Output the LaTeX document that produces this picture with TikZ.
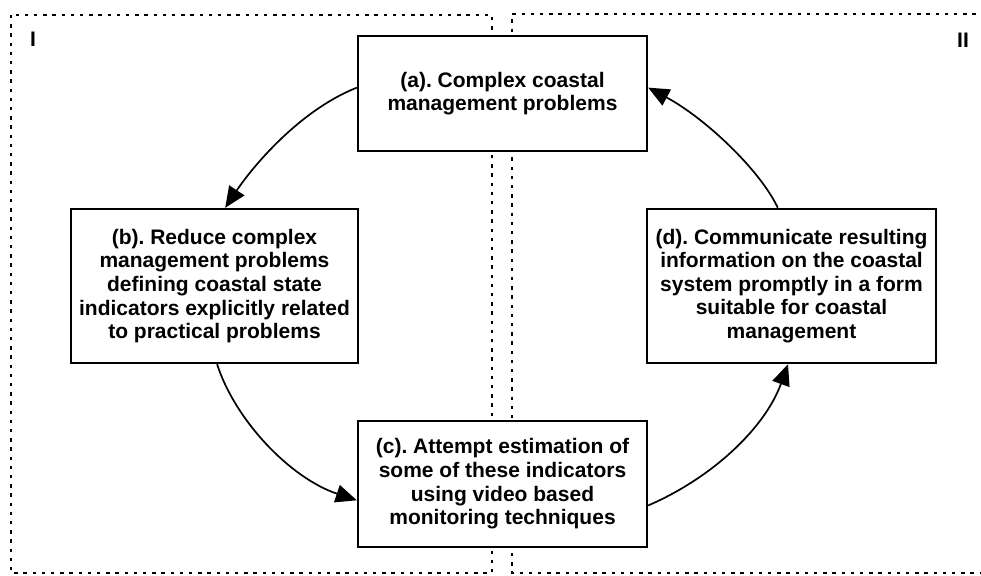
\documentclass[tikz,border=0pt]{standalone}
\usepackage{fontspec}
\setmainfont{Liberation Sans}
\frenchspacing
\usetikzlibrary{arrows.meta,calc}
\tikzset{
  stagebox/.style={draw=black, line width=2.4pt, fill=white, inner sep=0pt, align=center,
    font=\fontsize{21}{23.6}\selectfont\bfseries},
  region/.style={draw=black, line width=2pt, dash pattern=on 3.4pt off 5.8pt},
  flow/.style={draw=black, line width=1.7pt, -{Triangle[length=21pt,width=18pt]}},
  regionlabel/.style={font=\fontsize{21}{23.6}\selectfont\bfseries, inner sep=0pt}
}
\begin{document}
\frenchspacing
\begin{tikzpicture}[x=1pt,y=-1pt]
\useasboundingbox (0,0) rectangle (981,575);
% regions
\draw[region] (11,15) rectangle (492,573);
\draw[region] (985,14) -- (512,14) -- (512,573) -- (985,573);
\node[regionlabel] (lI) at (33,39) {I};
\node[regionlabel] (lII) at (963,40) {II};
% boxes
\node[stagebox, minimum width=289pt, minimum height=115pt] (a) at (502.5,93.5)
  {(a). Complex coastal\\management problems};
\node[stagebox, minimum width=287pt, minimum height=154pt] (b) at (214.5,286)
  {(b). Reduce complex\\management problems\\defining coastal state\\indicators explicitly related\\to practical problems};
\node[stagebox, minimum width=289pt, minimum height=126pt] (c) at (502.5,484)
  {(c). Attempt estimation of\\some of these indicators\\using video based\\monitoring techniques};
\node[stagebox, minimum width=289pt, minimum height=154pt] (d) at (791.5,286)
  {(d). Communicate resulting\\information on the coastal\\system promptly in a form\\suitable for coastal\\management};
% connectors
\coordinate (a1) at ($(a.north west)!0.45!(a.south west)$);
\coordinate (b1) at ($(b.north west)!0.537!(b.north east)$);
\coordinate (b2) at ($(b.south west)!0.509!(b.south east)$);
\coordinate (c1) at ($(c.north west)!0.627!(c.south west)$);
\coordinate (c2) at ($(c.north east)!0.667!(c.south east)$);
\coordinate (d1) at ($(d.south west)!0.488!(d.south east)$);
\coordinate (d2) at ($(d.north west)!0.453!(d.north east)$);
\coordinate (a2) at ($(a.north east)!0.45!(a.south east)$);
\draw[flow] (a1) .. controls (298,111) and (251,169) .. (b1);
\draw[flow] (b2) .. controls (235,420) and (290,478) .. (c1);
\draw[flow] (c2) .. controls (712,478) and (765,428) .. (d1);
\draw[flow] (d2) .. controls (760,170) and (705,118) .. (a2);
\end{tikzpicture}
\end{document}
